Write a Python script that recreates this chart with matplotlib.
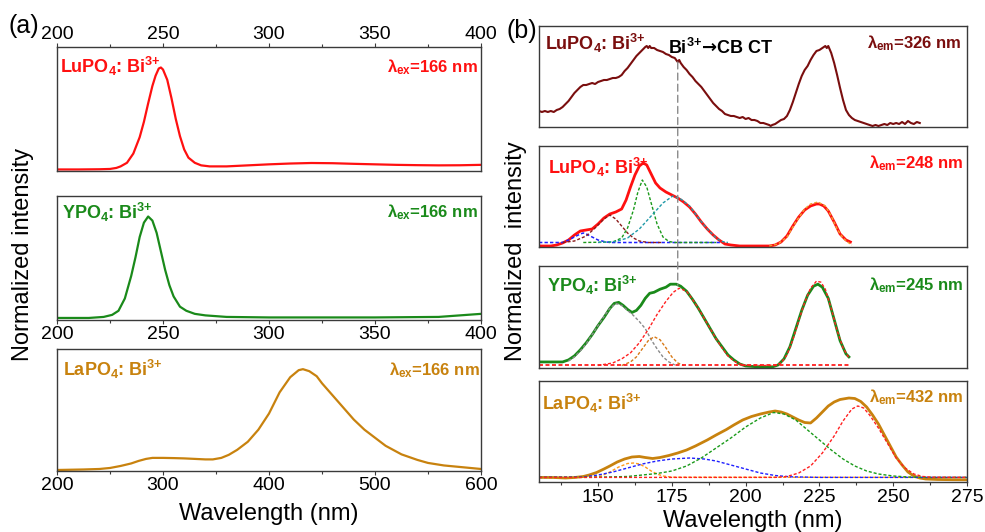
import matplotlib
matplotlib.use('Agg')
import matplotlib.pyplot as plt
from matplotlib.patches import ConnectionPatch
from matplotlib.ticker import MultipleLocator

plt.rcParams['font.family'] = ['Liberation Sans', 'DejaVu Sans']
# all math in this figure is bold (sub/superscripts of the sample labels)
plt.rcParams['mathtext.fontset'] = 'custom'
plt.rcParams['mathtext.rm'] = 'Liberation Sans:bold'
plt.rcParams['mathtext.it'] = 'Liberation Sans:bold'
plt.rcParams['mathtext.bf'] = 'Liberation Sans:bold'
plt.rcParams['mathtext.sf'] = 'DejaVu Sans:bold'
plt.rcParams['mathtext.default'] = 'rm'

# ---- panel (a): emission spectra, lambda_ex = 166 nm ----
a_lu_x = [200, 210, 220, 225, 228, 230, 233, 236, 239, 241, 243, 245, 246.5, 248, 249, 250, 252,
          254, 256, 258, 260, 262, 265, 268, 272, 280, 290, 300, 310, 320, 330, 340, 350, 360,
          370, 380, 390, 400]
a_lu_y = [0.005, 0.005, 0.007, 0.01, 0.02, 0.035, 0.07, 0.16, 0.32, 0.47, 0.65, 0.82, 0.92, 0.99,
          1.0, 0.98, 0.88, 0.70, 0.50, 0.33, 0.20, 0.12, 0.07, 0.045, 0.035, 0.035, 0.045, 0.055,
          0.063, 0.068, 0.066, 0.06, 0.055, 0.05, 0.047, 0.045, 0.046, 0.05]

a_y_x = [200, 215, 222, 226, 229, 232, 235, 237, 239, 241, 243, 245, 247, 249, 251, 253, 255, 258,
         261, 265, 270, 280, 300, 350, 380, 400]
a_y_y = [0.01, 0.01, 0.02, 0.04, 0.08, 0.20, 0.42, 0.60, 0.80, 0.94, 1.0, 0.96, 0.84, 0.66, 0.48,
         0.33, 0.22, 0.12, 0.08, 0.05, 0.035, 0.02, 0.015, 0.015, 0.02, 0.05]

a_la_x = [200, 225, 240, 250, 260, 270, 277, 284, 290, 300, 310, 320, 330, 340, 347, 355, 362,
          370, 380, 390, 400, 410, 420, 428, 432, 438, 445, 450, 460, 470, 475, 480, 490, 500,
          510, 525, 540, 550, 565, 575, 590, 600]
a_la_y = [0.0, 0.005, 0.01, 0.02, 0.04, 0.065, 0.09, 0.11, 0.12, 0.12, 0.118, 0.115, 0.11, 0.105,
          0.105, 0.12, 0.15, 0.20, 0.28, 0.40, 0.56, 0.77, 0.92, 0.99, 1.0, 0.98, 0.93, 0.86, 0.74,
          0.62, 0.56, 0.50, 0.40, 0.32, 0.24, 0.155, 0.10, 0.07, 0.045, 0.035, 0.02, 0.01]

# ---- panel (b): excitation spectra ----
b1_x = [130, 131, 132, 133, 134, 135, 136, 137, 138, 139, 140, 141, 142, 143, 144, 145, 146, 147,
        148, 149, 150, 151, 152, 153, 154, 155, 156, 157, 158, 159, 160, 161, 162, 163, 164, 165,
        166, 166.5, 167, 167.5, 168, 169, 170, 171, 172, 173, 174, 175, 176, 177, 177.5, 178,
        179, 180, 181, 182, 183, 184, 185, 186, 187, 188, 189, 190, 191, 192, 193, 194, 195,
        196, 197, 198, 199, 200, 201, 202, 203, 204, 205, 206, 207, 208, 208.5, 209, 210, 211,
        212, 213, 214, 215, 216, 217, 218, 219, 220, 221, 222, 223, 224, 225, 226, 227, 227.5,
        228, 229, 230, 231, 232, 233, 234, 235, 236, 237, 238, 239, 240, 241, 242, 243, 244,
        245, 246, 247, 248, 249, 250, 251, 252, 253, 254, 255, 256, 257, 258, 259]
b1_y = [0.15, 0.14, 0.15, 0.14, 0.15, 0.14, 0.16, 0.17, 0.19, 0.22, 0.25, 0.29, 0.33, 0.36, 0.39,
        0.41, 0.41, 0.42, 0.43, 0.42, 0.44, 0.45, 0.46, 0.46, 0.47, 0.48, 0.48, 0.49, 0.51, 0.55,
        0.58, 0.62, 0.66, 0.70, 0.73, 0.76, 0.79, 0.80, 0.78, 0.80, 0.78, 0.78, 0.76, 0.75, 0.74,
        0.72, 0.71, 0.69, 0.68, 0.64, 0.66, 0.63, 0.59, 0.56, 0.52, 0.49, 0.45, 0.42, 0.39, 0.35,
        0.31, 0.27, 0.23, 0.20, 0.17, 0.15, 0.12, 0.11, 0.10, 0.10, 0.09, 0.08, 0.09, 0.07, 0.08,
        0.06, 0.06, 0.05, 0.03, 0.03, 0.02, 0.01, 0.0, 0.01, 0.02, 0.04, 0.06, 0.07, 0.10, 0.16,
        0.24, 0.33, 0.42, 0.50, 0.56, 0.60, 0.66, 0.71, 0.75, 0.76, 0.78, 0.80, 0.78, 0.80, 0.73,
        0.63, 0.51, 0.38, 0.26, 0.16, 0.11, 0.08, 0.06, 0.05, 0.04, 0.03, 0.02, 0.01, 0.0, 0.01,
        0.0, 0.01, 0.02, 0.01, 0.03, 0.02, 0.03, 0.02, 0.04, 0.02, 0.05, 0.03, 0.02, 0.04, 0.03]

b2_x = [130, 134, 136, 138, 140, 142, 144, 146, 148, 150, 152, 154, 156, 158, 159.5, 161, 162.5,
        164, 165.3, 166.5, 168, 169.5, 171, 173, 175, 177, 179, 181, 183, 185, 187, 189, 191,
        193, 195, 198, 208, 210, 212, 214, 216, 218, 220, 222, 224, 225, 226.5, 228, 230, 232,
        234, 235.5]
b2_y = [0.0, 0.0, 0.01, 0.03, 0.06, 0.11, 0.15, 0.16, 0.17, 0.22, 0.28, 0.32, 0.34, 0.37, 0.46,
        0.59, 0.71, 0.80, 0.83, 0.81, 0.72, 0.63, 0.58, 0.54, 0.51, 0.48, 0.44, 0.39, 0.32, 0.24,
        0.17, 0.11, 0.06, 0.02, 0.01, 0.0, 0.0, 0.01, 0.04, 0.10, 0.20, 0.29, 0.36, 0.40, 0.42,
        0.42, 0.40, 0.35, 0.24, 0.12, 0.06, 0.04]
b2_blue_x = [130, 138, 140, 142, 144, 145, 146, 148, 150, 152, 154, 192]
b2_blue_y = [0.035, 0.035, 0.06, 0.09, 0.12, 0.13, 0.12, 0.09, 0.06, 0.045, 0.035, 0.035]
b2_brown_x = [138, 142, 146, 149, 152, 154, 156, 158, 160, 162, 164, 167, 172]
b2_brown_y = [0.035, 0.05, 0.10, 0.18, 0.27, 0.31, 0.27, 0.20, 0.13, 0.08, 0.05, 0.035, 0.035]
b2_green_x = [145, 155, 158, 160, 162, 163.5, 165, 166.5, 168, 170, 172, 174, 176, 190]
b2_green_y = [0.035, 0.04, 0.08, 0.18, 0.36, 0.54, 0.66, 0.59, 0.43, 0.22, 0.09, 0.045, 0.035, 0.035]
b2_teal_x = [150, 156, 160, 164, 168, 172, 175.3, 178, 181, 184, 187, 190, 192, 194]
b2_teal_y = [0.035, 0.045, 0.08, 0.17, 0.30, 0.43, 0.50, 0.47, 0.40, 0.28, 0.17, 0.08, 0.045, 0.035]
b2_fit_x = [208, 211, 214, 217, 220, 222, 224.5, 227, 229, 231, 233, 235, 236]
b2_fit_y = [0.0, 0.02, 0.09, 0.24, 0.37, 0.42, 0.44, 0.40, 0.30, 0.17, 0.08, 0.03, 0.01]

b3_x = [130, 138, 140, 142, 144, 146, 148, 150, 152, 154, 155.5, 157, 158.5, 160, 161.5, 163,
        164.5, 166, 167.5, 169, 171, 173, 174.5, 176.5, 178, 180, 182, 184, 186, 188, 190, 192,
        194, 196, 198, 200, 205, 209, 211, 213, 215, 217, 219, 221, 223, 224.5, 226, 228, 230,
        232, 234, 235]
b3_y = [0.05, 0.05, 0.07, 0.11, 0.17, 0.24, 0.32, 0.41, 0.49, 0.58, 0.63, 0.64, 0.61, 0.57, 0.54,
        0.56, 0.61, 0.68, 0.73, 0.74, 0.77, 0.79, 0.82, 0.82, 0.80, 0.75, 0.67, 0.58, 0.48, 0.38,
        0.28, 0.20, 0.12, 0.07, 0.03, 0.01, 0.0, 0.0, 0.02, 0.08, 0.20, 0.38, 0.56, 0.71, 0.80,
        0.82, 0.79, 0.68, 0.47, 0.26, 0.13, 0.10]
b3_gray_x = [140, 142, 144, 146, 148, 150, 152, 154, 156, 158, 160, 162, 164, 166, 168, 170, 172,
             174, 176]
b3_gray_y = [0.06, 0.10, 0.16, 0.23, 0.32, 0.41, 0.50, 0.58, 0.63, 0.61, 0.56, 0.51, 0.45, 0.38,
             0.27, 0.18, 0.10, 0.05, 0.02]
b3_orange_x = [158, 161, 163, 165, 167, 169, 171, 173, 175, 177, 179]
b3_orange_y = [0.015, 0.05, 0.10, 0.18, 0.26, 0.30, 0.27, 0.19, 0.10, 0.04, 0.015]
b3_red_x = [150, 155, 158, 161, 164, 167, 170, 173, 175.5, 177.5, 180, 182, 184, 186, 188, 190,
            192, 194, 196, 198, 200, 210, 212, 214, 216, 218, 220, 222, 224, 225.5, 227, 229,
            231, 233, 235]
b3_red_y = [0.015, 0.04, 0.08, 0.14, 0.24, 0.37, 0.52, 0.65, 0.74, 0.78, 0.75, 0.67, 0.58, 0.48,
            0.38, 0.28, 0.19, 0.11, 0.06, 0.03, 0.015, 0.015, 0.04, 0.12, 0.27, 0.46, 0.64, 0.78,
            0.85, 0.84, 0.77, 0.58, 0.36, 0.19, 0.09]
b3_base_x = [130, 235.5]
b3_base_y = [0.015, 0.015]

b4_x = [130, 135, 139, 142, 145, 147, 149.5, 152, 154, 156.5, 159, 161.5, 164, 166, 168.5, 171,
        174, 177, 180, 183, 187, 190, 193.5, 196, 199, 202, 205, 208, 210, 212, 214, 216, 218,
        220, 222, 224, 226, 228, 230, 232, 235, 237, 239, 241, 243, 245, 247, 249, 251, 253, 255,
        257, 259, 261, 265, 270, 275]
b4_y = [0.036, 0.035, 0.03, 0.035, 0.045, 0.06, 0.085, 0.12, 0.15, 0.19, 0.22, 0.24, 0.245, 0.235,
        0.225, 0.235, 0.255, 0.28, 0.31, 0.35, 0.41, 0.46, 0.515, 0.56, 0.61, 0.645, 0.67, 0.69,
        0.70, 0.69, 0.67, 0.64, 0.61, 0.585, 0.58, 0.63, 0.69, 0.75, 0.79, 0.815, 0.83, 0.825,
        0.795, 0.74, 0.66, 0.57, 0.46, 0.35, 0.24, 0.16, 0.09, 0.05, 0.03, 0.02, 0.015, 0.013, 0.012]
b4_orange_x = [130, 148, 151, 154, 157, 160, 162, 164, 166, 168, 170, 172, 175, 275]
b4_orange_y = [0.036, 0.036, 0.05, 0.09, 0.14, 0.175, 0.18, 0.17, 0.14, 0.10, 0.07, 0.05, 0.038,
               0.036]
b4_blue_x = [130, 145, 150, 155, 160, 165, 170, 175, 181, 186, 190, 195, 200, 205, 210, 215, 225,
             275]
b4_blue_y = [0.036, 0.04, 0.06, 0.09, 0.13, 0.17, 0.20, 0.22, 0.23, 0.22, 0.20, 0.16, 0.12, 0.08,
             0.055, 0.042, 0.036, 0.036]
b4_green_x = [130, 150, 160, 165, 170, 175, 180, 185, 190, 195, 200, 205, 209.5, 213, 217, 221,
              225, 229, 233, 237, 241, 245, 250, 255, 262, 275]
b4_green_y = [0.036, 0.038, 0.045, 0.06, 0.075, 0.10, 0.15, 0.23, 0.33, 0.43, 0.54, 0.63, 0.685,
              0.67, 0.61, 0.51, 0.41, 0.31, 0.22, 0.15, 0.10, 0.07, 0.05, 0.04, 0.036, 0.036]
b4_red_x = [130, 210, 214, 218, 222, 226, 230, 233, 236, 238, 240, 242, 245, 248, 251, 254, 257,
            260, 263, 275]
b4_red_y = [0.036, 0.036, 0.045, 0.08, 0.15, 0.28, 0.45, 0.60, 0.72, 0.75, 0.73, 0.66, 0.53, 0.38,
            0.23, 0.13, 0.07, 0.045, 0.038, 0.036]

RED = '#ff1010'
GREEN = '#1a8a1a'
ORANGE = '#c8820e'
DARKRED = '#7a0e0e'

fig = plt.figure(figsize=(9.85, 5.32), dpi=100)

# axes rectangles (pixels -> figure fraction)
W, H = 985.0, 532.0
def rect(x0, x1, top, bot):
    return [x0 / W, 1 - bot / H, (x1 - x0) / W, (bot - top) / H]

ax_a1 = fig.add_axes(rect(57, 481, 47, 171))
ax_a2 = fig.add_axes(rect(57, 481, 196, 320))
ax_a3 = fig.add_axes(rect(57, 481, 349, 471))
ax_b1 = fig.add_axes(rect(539, 967, 26, 127))
ax_b2 = fig.add_axes(rect(539, 967, 146, 247))
ax_b3 = fig.add_axes(rect(539, 967, 266, 368))
ax_b4 = fig.add_axes(rect(539, 967, 381, 482))

for ax in [ax_a1, ax_a2, ax_a3, ax_b1, ax_b2, ax_b3, ax_b4]:
    for s in ax.spines.values():
        s.set_color('#3a3a3a')
        s.set_linewidth(1.0)
    ax.set_yticks([])
    ax.tick_params(labelsize=14, direction='out', length=3, width=0.8, color='#3a3a3a', pad=1.5)
    ax.tick_params(which='minor', length=2, width=0.8, color='#3a3a3a')

# left column
ax_a1.plot(a_lu_x, a_lu_y, color=RED, lw=1.6)
ax_a1.set_xlim(200, 400)
ax_a1.set_ylim(-0.01, 1.2)
ax_a1.xaxis.tick_top()
ax_a1.tick_params(axis='x', pad=0)
ax_a1.xaxis.set_major_locator(MultipleLocator(50))
ax_a1.xaxis.set_minor_locator(MultipleLocator(25))

ax_a2.plot(a_y_x, a_y_y, color=GREEN, lw=1.6)
ax_a2.set_xlim(200, 400)
ax_a2.set_ylim(-0.01, 1.2)
ax_a2.xaxis.set_major_locator(MultipleLocator(50))
ax_a2.xaxis.set_minor_locator(MultipleLocator(25))

ax_a3.plot(a_la_x, a_la_y, color=ORANGE, lw=1.6)
ax_a3.set_xlim(200, 600)
ax_a3.set_ylim(-0.01, 1.2)
ax_a3.xaxis.set_major_locator(MultipleLocator(100))
ax_a3.xaxis.set_minor_locator(MultipleLocator(50))

lbl = dict(fontsize=13, fontweight='bold')
lam = dict(fontsize=12, fontweight='bold')
ax_a1.text(0.007, 0.84, r'LuPO$_4$: Bi$^{\text{3+}}$', color=RED, transform=ax_a1.transAxes,
           va='center', ha='left', **lbl)
ax_a1.text(0.993, 0.84, r'λ$_{ex}$=166 nm', color=RED, transform=ax_a1.transAxes,
           va='center', ha='right', **lam)
ax_a2.text(0.011, 0.87, r'YPO$_4$: Bi$^{\text{3+}}$', color=GREEN, transform=ax_a2.transAxes,
           va='center', ha='left', **lbl)
ax_a2.text(0.993, 0.87, r'λ$_{ex}$=166 nm', color=GREEN, transform=ax_a2.transAxes,
           va='center', ha='right', **lam)
ax_a3.text(0.014, 0.83, r'LaPO$_4$: Bi$^{\text{3+}}$', color=ORANGE, transform=ax_a3.transAxes,
           va='center', ha='left', **lbl)
ax_a3.text(0.997, 0.83, r'λ$_{ex}$=166 nm', color=ORANGE, transform=ax_a3.transAxes,
           va='center', ha='right', **lam)

# right column
dash = (0, (2.2, 1.4))
for ax in [ax_b1, ax_b2, ax_b3, ax_b4]:
    ax.set_xlim(130, 275)
    ax.set_ylim(-0.01, 1.0)
    ax.xaxis.set_major_locator(MultipleLocator(25))
    ax.xaxis.set_minor_locator(MultipleLocator(12.5))
for ax in [ax_b1, ax_b2, ax_b3]:
    ax.set_xticks([])
    ax.set_xticks([], minor=True)
ax_b4.tick_params(axis='x', pad=2.2)

ax_b1.plot(b1_x, b1_y, color=DARKRED, lw=1.5)

ax_b2.plot(b2_x, b2_y, color=RED, lw=2.0)
ax_b2.plot(b2_blue_x, b2_blue_y, color='#2020ff', lw=1.1, ls=dash)
ax_b2.plot(b2_brown_x, b2_brown_y, color='#8b1a1a', lw=1.0, ls=dash)
ax_b2.plot(b2_green_x, b2_green_y, color='#1a9a1a', lw=1.0, ls=dash)
ax_b2.plot(b2_teal_x, b2_teal_y, color='#1f9aa8', lw=1.0, ls=dash)
ax_b2.plot(b2_fit_x, b2_fit_y, color='#f0a030', lw=1.0, ls=dash)

ax_b3.plot(b3_x, b3_y, color=GREEN, lw=2.0)
ax_b3.plot(b3_gray_x, b3_gray_y, color='#8a8a8a', lw=1.0, ls=dash)
ax_b3.plot(b3_orange_x, b3_orange_y, color='#d87a18', lw=1.0, ls=dash)
ax_b3.plot(b3_red_x, b3_red_y, color='#ff2020', lw=1.0, ls=dash)
ax_b3.plot(b3_base_x, b3_base_y, color='#ff2020', lw=1.3, ls=dash)

ax_b4.plot(b4_x, b4_y, color=ORANGE, lw=2.0)
ax_b4.plot(b4_orange_x, b4_orange_y, color='#ff9a1a', lw=1.0, ls=dash)
ax_b4.plot(b4_blue_x, b4_blue_y, color='#2020ff', lw=1.0, ls=dash)
ax_b4.plot(b4_green_x, b4_green_y, color='#1a9a1a', lw=1.0, ls=dash)
ax_b4.plot(b4_red_x, b4_red_y, color='#ff2020', lw=1.0, ls=dash)

lbl_b = dict(fontsize=13, fontweight='bold')
lam_b = dict(fontsize=12, fontweight='bold')
ax_b1.text(0.014, 0.83, r'LuPO$_4$: Bi$^{\text{3+}}$', color=DARKRED, transform=ax_b1.transAxes,
           va='center', ha='left', **lbl_b)
ax_b1.text(0.988, 0.83, r'λ$_{em}$=326 nm', color=DARKRED, transform=ax_b1.transAxes,
           va='center', ha='right', **lam_b)
ax_b1.text(0.302, 0.78, r'Bi$^{\text{3+}}\mathsf{→}$CB CT', color='black', transform=ax_b1.transAxes,
           va='center', ha='left', **lbl_b)
ax_b2.text(0.022, 0.79, r'LuPO$_4$: Bi$^{\text{3+}}$', color=RED, transform=ax_b2.transAxes,
           va='center', ha='left', **lbl_b)
ax_b2.text(0.991, 0.83, r'λ$_{em}$=248 nm', color=RED, transform=ax_b2.transAxes,
           va='center', ha='right', **lam_b)
ax_b3.text(0.018, 0.81, r'YPO$_4$: Bi$^{\text{3+}}$', color=GREEN, transform=ax_b3.transAxes,
           va='center', ha='left', **lbl_b)
ax_b3.text(0.991, 0.81, r'λ$_{em}$=245 nm', color=GREEN, transform=ax_b3.transAxes,
           va='center', ha='right', **lam_b)
ax_b4.text(0.006, 0.78, r'LaPO$_4$: Bi$^{\text{3+}}$', color=ORANGE, transform=ax_b4.transAxes,
           va='center', ha='left', **lbl_b)
ax_b4.text(0.991, 0.845, r'λ$_{em}$=432 nm', color=ORANGE, transform=ax_b4.transAxes,
           va='center', ha='right', **lam_b)

# dashed guide line through the right column
con = ConnectionPatch(xyA=(177, 0.64), coordsA=ax_b1.transData,
                      xyB=(177, 0.81), coordsB=ax_b3.transData,
                      color='#8a8a8a', lw=1.0, ls=(0, (5, 3)), zorder=0.5)
fig.add_artist(con)

# figure level labels
fig.text(8 / W, 1 - 26 / H, '(a)', fontsize=18, va='center', ha='left')
fig.text(506 / W, 1 - 31 / H, '(b)', fontsize=18, va='center', ha='left')
fig.text(23 / W, 1 - 254 / H, 'Normalized intensity', fontsize=17, rotation=90, va='center', ha='center')
fig.text(516 / W, 1 - 251 / H, 'Normalized  intensity', fontsize=17, rotation=90, va='center', ha='center')
fig.text(269 / W, 1 - 514 / H, 'Wavelength (nm)', fontsize=17, va='center', ha='center')
fig.text(753 / W, 1 - 521 / H, 'Wavelength (nm)', fontsize=17, va='center', ha='center')

fig.savefig('out.png', dpi=100)
